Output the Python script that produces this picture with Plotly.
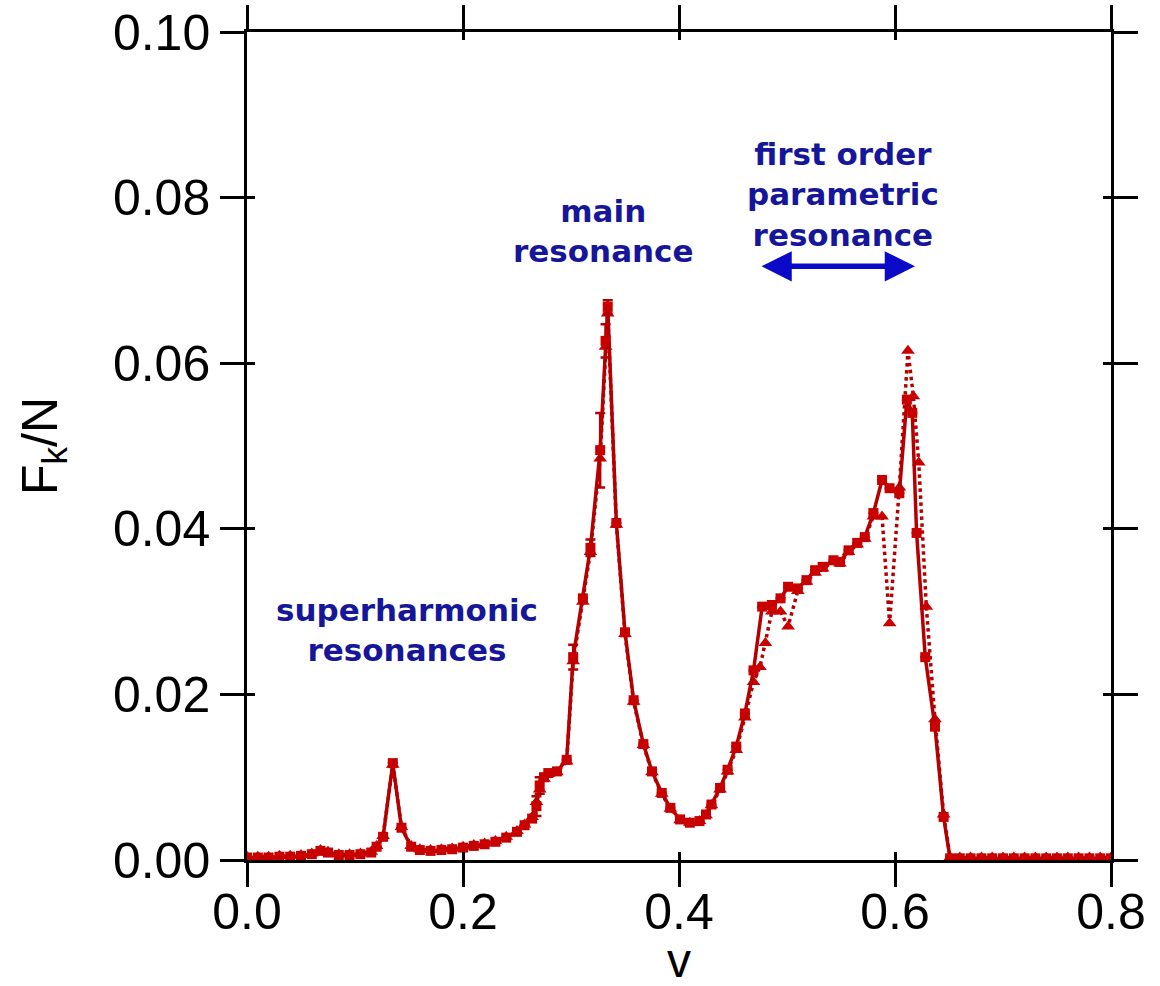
import plotly.graph_objects as go

# ---- data ----
v_a = [0.000, 0.010, 0.020, 0.030, 0.040, 0.050, 0.060, 0.068, 0.075, 0.085,
       0.095, 0.105, 0.115, 0.120, 0.126, 0.135, 0.143, 0.152, 0.160, 0.170,
       0.180, 0.190, 0.200, 0.210, 0.220, 0.230, 0.240, 0.250, 0.257, 0.264,
       0.268, 0.271, 0.275, 0.279, 0.287, 0.296, 0.302, 0.311, 0.318, 0.327,
       0.332, 0.334, 0.342, 0.350, 0.358, 0.367, 0.375, 0.384, 0.392, 0.401,
       0.410, 0.419, 0.425, 0.430, 0.438, 0.445, 0.453, 0.461, 0.469, 0.477,
       0.486, 0.494, 0.501, 0.510, 0.518, 0.526, 0.533, 0.543, 0.549, 0.557,
       0.565, 0.572, 0.580, 0.588, 0.595, 0.604, 0.611, 0.616, 0.620, 0.628,
       0.637, 0.645, 0.651, 0.660, 0.670, 0.680, 0.690, 0.700, 0.710, 0.720,
       0.730, 0.740, 0.750, 0.760, 0.770, 0.780, 0.790, 0.800]

fk_a = [0.0003, 0.0003, 0.0003, 0.0004, 0.0004, 0.0005, 0.0007, 0.0011, 0.0009, 0.0006,
        0.0006, 0.0007, 0.0009, 0.0016, 0.0028, 0.0117, 0.0039, 0.0016, 0.0012, 0.0011,
        0.0012, 0.0013, 0.0015, 0.0017, 0.0019, 0.0022, 0.0027, 0.0034, 0.0042, 0.0050,
        0.0065, 0.0090, 0.0100, 0.0105, 0.0107, 0.0121, 0.0245, 0.0316, 0.0377, 0.0495,
        0.0627, 0.0668, 0.0407, 0.0275, 0.0193, 0.0140, 0.0107, 0.0081, 0.0063, 0.0049,
        0.0045, 0.0047, 0.0055, 0.0067, 0.0087, 0.0109, 0.0137, 0.0177, 0.0229, 0.0306,
        0.0308, 0.0316, 0.0330, 0.0328, 0.0338, 0.0350, 0.0354, 0.0362, 0.0360, 0.0374,
        0.0383, 0.0390, 0.0419, 0.0459, 0.0449, 0.0443, 0.0556, 0.0540, 0.0395, 0.0245,
        0.0161, 0.0052, 0.0002, 0.0002, 0.0002, 0.0002, 0.0002, 0.0002, 0.0002, 0.0002,
        0.0002, 0.0002, 0.0002, 0.0002, 0.0002, 0.0002, 0.0002, 0.0002]

err_a = [0, 0, 0, 0, 0, 0, 0, 0, 0, 0,
         0, 0, 0, 0, 0, 0, 0, 0, 0, 0,
         0, 0, 0, 0, 0, 0, 0, 0, 0, 0,
         0.0012, 0.0010, 0, 0, 0, 0, 0.0015, 0, 0.0010, 0.0045,
         0.0020, 0.0008, 0, 0, 0, 0, 0, 0, 0, 0,
         0, 0, 0, 0, 0, 0, 0, 0, 0, 0,
         0, 0, 0, 0, 0, 0, 0, 0, 0, 0,
         0, 0, 0, 0, 0, 0, 0, 0, 0, 0,
         0, 0, 0, 0, 0, 0, 0, 0, 0, 0,
         0, 0, 0, 0, 0, 0, 0, 0]

v_b = [0.000, 0.010, 0.020, 0.030, 0.040, 0.050, 0.060, 0.068, 0.075, 0.085,
       0.095, 0.105, 0.115, 0.120, 0.126, 0.135, 0.143, 0.152, 0.160, 0.170,
       0.180, 0.190, 0.200, 0.210, 0.220, 0.230, 0.240, 0.250, 0.257, 0.264,
       0.268, 0.271, 0.275, 0.279, 0.287, 0.296, 0.302, 0.311, 0.318, 0.327,
       0.332, 0.334, 0.342, 0.350, 0.358, 0.367, 0.375, 0.384, 0.392, 0.401,
       0.410, 0.419, 0.425, 0.430, 0.438, 0.445, 0.453, 0.461, 0.469, 0.475,
       0.480, 0.486, 0.494, 0.501, 0.510, 0.518, 0.526, 0.533, 0.543, 0.549,
       0.557, 0.565, 0.572, 0.580, 0.588, 0.595, 0.604, 0.612, 0.617, 0.622,
       0.629, 0.637, 0.645, 0.651, 0.660, 0.670, 0.680, 0.690, 0.700, 0.710,
       0.720, 0.730, 0.740, 0.750, 0.760, 0.770, 0.780, 0.790, 0.800]

fk_b = [0.0004, 0.0004, 0.0004, 0.0005, 0.0005, 0.0006, 0.0008, 0.0012, 0.0010, 0.0007,
        0.0007, 0.0008, 0.0010, 0.0017, 0.0029, 0.0115, 0.0040, 0.0017, 0.0013, 0.0012,
        0.0013, 0.0014, 0.0016, 0.0018, 0.0020, 0.0023, 0.0028, 0.0035, 0.0043, 0.0052,
        0.0070, 0.0085, 0.0098, 0.0104, 0.0106, 0.0119, 0.0240, 0.0312, 0.0372, 0.0485,
        0.0620, 0.0660, 0.0405, 0.0273, 0.0191, 0.0139, 0.0106, 0.0080, 0.0062, 0.0048,
        0.0045, 0.0047, 0.0054, 0.0066, 0.0085, 0.0107, 0.0133, 0.0172, 0.0215, 0.0233,
        0.0262, 0.0300, 0.0300, 0.0282, 0.0325, 0.0336, 0.0347, 0.0352, 0.0360, 0.0358,
        0.0372, 0.0381, 0.0388, 0.0415, 0.0415, 0.0286, 0.0450, 0.0615, 0.0560, 0.0480,
        0.0306, 0.0170, 0.0055, 0.0003, 0.0003, 0.0003, 0.0003, 0.0003, 0.0003, 0.0003,
        0.0003, 0.0003, 0.0003, 0.0003, 0.0003, 0.0003, 0.0003, 0.0003, 0.0003]

x_ticks = [0.0, 0.2, 0.4, 0.6, 0.8]
x_tick_text = ["0.0", "0.2", "0.4", "0.6", "0.8"]
y_ticks = [0.00, 0.02, 0.04, 0.06, 0.08, 0.10]
y_tick_text = ["0.00", "0.02", "0.04", "0.06", "0.08", "0.10"]

LINE_RED = "#b40000"
MARK_RED = "#c80000"
BLUE_TXT = "#16169a"
BLUE_ARR = "#0a0ac8"
FONT = "Liberation Sans, Arial, sans-serif"
BOLD = "DejaVu Sans, Verdana, sans-serif"

fig = go.Figure()

fig.add_trace(go.Scatter(
    x=v_b, y=fk_b, mode="lines+markers",
    line=dict(color=LINE_RED, width=3.5, dash="dot"),
    marker=dict(symbol="triangle-up", size=12, color=MARK_RED),
    showlegend=False, hoverinfo="skip"))

fig.add_trace(go.Scatter(
    x=v_a, y=fk_a, mode="lines+markers",
    line=dict(color=LINE_RED, width=3.5),
    marker=dict(symbol="square", size=10, color=MARK_RED),
    error_y=dict(type="data", array=err_a, visible=True, color=LINE_RED,
                 thickness=2.5, width=5),
    showlegend=False, hoverinfo="skip"))

# empty trace on the overlay axes (inside tick halves)
fig.add_trace(go.Scatter(x=[], y=[], xaxis="x2", yaxis="y2", showlegend=False))

axis_common = dict(showgrid=False, zeroline=False, showline=True,
                   linecolor="black", linewidth=2.5, mirror="allticks",
                   tickcolor="black", tickwidth=2.5, automargin=False)

fig.update_layout(
    width=1160, height=986,
    margin=dict(l=247, r=49, t=32, b=126),
    paper_bgcolor="white", plot_bgcolor="white",
    xaxis=dict(range=[0, 0.8], tickvals=x_ticks, ticktext=x_tick_text,
               ticks="outside", ticklen=24, ticklabelstandoff=-18,
               tickfont=dict(family=FONT, size=50, color="black"),
               **axis_common),
    yaxis=dict(range=[0, 0.1], tickvals=y_ticks, ticktext=y_tick_text,
               ticks="outside", ticklen=24,
               tickfont=dict(family=FONT, size=50, color="black"),
               title=dict(text="F<sub>k</sub>/N",
                          font=dict(family=FONT, size=50, color="black"),
                          standoff=40),
               **axis_common),
    xaxis2=dict(range=[0, 0.8], tickvals=x_ticks, overlaying="x", anchor="y2",
                ticks="inside", ticklen=8, showticklabels=False, **axis_common),
    yaxis2=dict(range=[0, 0.1], tickvals=y_ticks, overlaying="y", anchor="x2",
                ticks="inside", ticklen=8, showticklabels=False, **axis_common),
)

# x axis title
fig.add_annotation(x=0.5, y=0, xref="paper", yref="paper", xanchor="center",
                   yanchor="top", yshift=-72, showarrow=False, text="v",
                   font=dict(family=FONT, size=48, color="black"))

ann_font = dict(family=BOLD, size=31, color=BLUE_TXT)
fig.add_annotation(x=0.148, y=0.0278, xref="x", yref="y", showarrow=False,
                   text="<b>superharmonic</b><br><b>resonances</b>", font=ann_font)
fig.add_annotation(x=0.330, y=0.0760, xref="x", yref="y", showarrow=False,
                   text="<b>main</b><br><b>resonance</b>", font=ann_font)
fig.add_annotation(x=0.552, y=0.0804, xref="x", yref="y", showarrow=False,
                   text="<b>first order</b><br><b>parametric</b><br><b>resonance</b>",
                   font=ann_font)
# double-headed arrow
fig.add_annotation(x=0.6185, y=0.0717, ax=0.475, ay=0.0717,
                   xref="x", yref="y", axref="x", ayref="y",
                   showarrow=True, arrowhead=2, startarrowhead=2,
                   arrowside="end+start", arrowsize=1.1, startarrowsize=1.1,
                   arrowwidth=5.5, arrowcolor=BLUE_ARR, text="")

fig.write_html("out.html")
